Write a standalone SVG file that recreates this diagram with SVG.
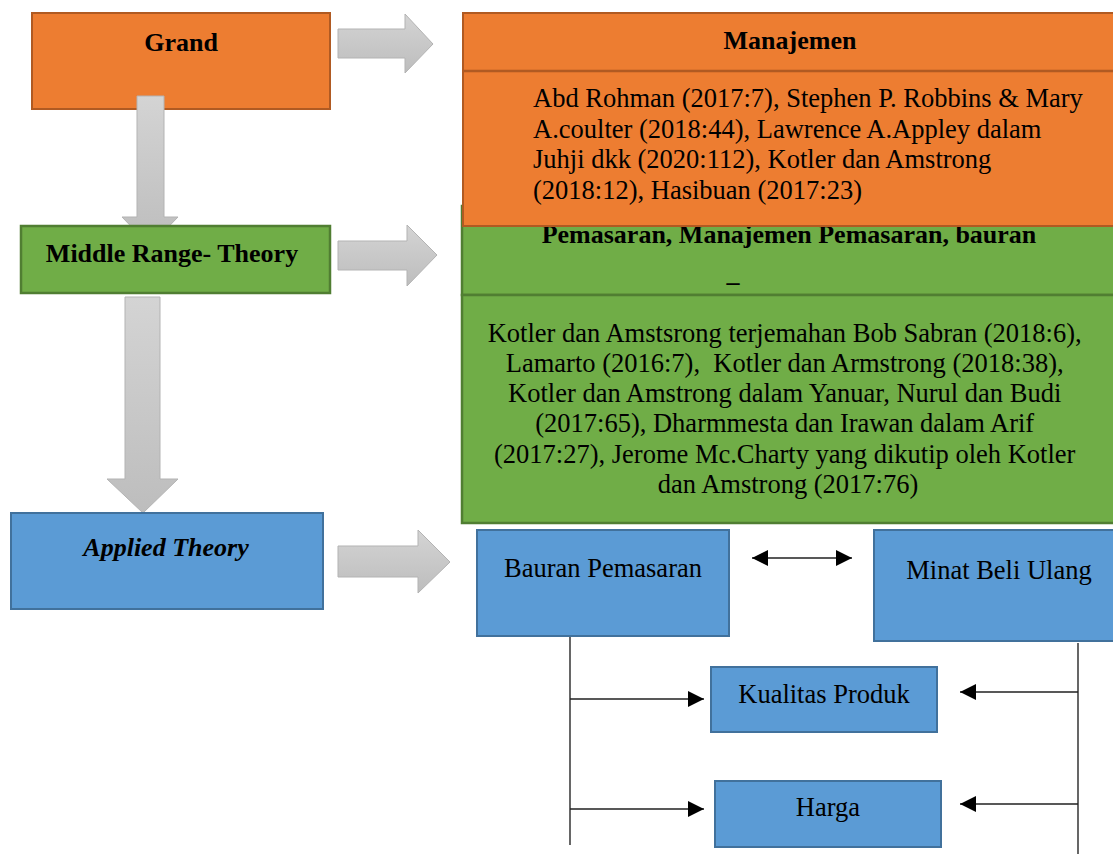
<svg xmlns="http://www.w3.org/2000/svg" width="1113" height="854" viewBox="0 0 1113 854">
<defs>
<linearGradient id="gg" x1="0" y1="0" x2="0" y2="1">
<stop offset="0" stop-color="#d4d4d4"/>
<stop offset="1" stop-color="#bdbdbd"/>
</linearGradient>
<marker id="ah" viewBox="0 0 10 10" refX="10" refY="5" markerWidth="16" markerHeight="16" markerUnits="userSpaceOnUse" orient="auto-start-reverse">
<path d="M0,0 L10,5 L0,10 Z" fill="#000"/>
</marker>
</defs>
<style>
.t{font-family:"Liberation Serif","Times New Roman",serif;fill:#000}
.b{font-weight:bold;font-size:26px}
.r{font-size:26.5px}
.or{fill:#ED7D31;stroke:#B05A22;stroke-width:2}
.gr{fill:#70AD47;stroke:#507E32;stroke-width:2.5}
.bl{fill:#5B9BD5;stroke:#41719C;stroke-width:2}
.ga{fill:url(#gg);stroke:#b3b3b3;stroke-width:1}
.ln{fill:none;stroke:#404040;stroke-width:1.6}
.la{fill:none;stroke:#202020;stroke-width:1.6}
</style>
<rect width="1113" height="854" fill="#fff"/>

<g id="grand">
<rect class="or" x="32" y="13" width="298" height="96"/>
<text class="t b" x="181" y="51" text-anchor="middle">Grand</text>
</g>

<g id="connectors">
<path class="ga" d="M137,96 L164,96 L164,217 L178,217 L150,246 L122,217 L137,217 Z"/>
<path class="ga" d="M125,297 L160,297 L160,479 L178,479 L143,513 L107,479 L125,479 Z"/>
<path class="ga" d="M338,29 L405,29 L405,14 L433,44 L405,73 L405,58 L338,58 Z"/>
<path class="ga" d="M338,241 L407,241 L407,225 L437,255 L407,286 L407,270 L338,270 Z"/>
<path class="ga" d="M338,546 L418,546 L418,530 L450,562 L418,593 L418,577 L338,577 Z"/>
<line class="la" x1="752" y1="558" x2="852" y2="558" marker-start="url(#ah)" marker-end="url(#ah)"/>
<line class="ln" x1="570" y1="636" x2="570" y2="845"/>
<line class="la" x1="570" y1="699" x2="704" y2="699" marker-end="url(#ah)"/>
<line class="la" x1="570" y1="809" x2="704" y2="809" marker-end="url(#ah)"/>
<line class="ln" x1="1078" y1="643" x2="1078" y2="854"/>
<line class="la" x1="1078" y1="692" x2="960" y2="692" marker-end="url(#ah)"/>
<line class="la" x1="1078" y1="804" x2="960" y2="804" marker-end="url(#ah)"/>
</g>

<g id="middle">
<rect class="gr" x="21" y="226" width="309" height="67"/>
<text class="t b" x="172" y="262" text-anchor="middle">Middle Range- Theory</text>
</g>

<g id="applied">
<rect class="bl" x="11" y="513" width="312" height="96"/>
<text class="t b" x="166" y="556" text-anchor="middle" font-style="italic">Applied Theory</text>
</g>

<g id="pemasaran">
<rect class="gr" x="462" y="206" width="660" height="89"/>
<text class="t b" x="789" y="243" text-anchor="middle">Pemasaran, Manajemen Pemasaran, bauran</text>
<text class="t b" x="733" y="281" text-anchor="middle">_</text>
<rect class="gr" x="462" y="295" width="660" height="228"/>
<text class="t r" text-anchor="middle">
<tspan x="788" y="342">Kotler dan Amstsrong terjemahan Bob Sabran (2018:6),</tspan>
<tspan x="788" y="372">Lamarto (2016:7), &#160;Kotler dan Armstrong (2018:38),</tspan>
<tspan x="788" y="402">Kotler dan Amstrong dalam Yanuar, Nurul dan Budi</tspan>
<tspan x="788" y="432">(2017:65), Dharmmesta dan Irawan dalam Arif</tspan>
<tspan x="788" y="463">(2017:27), Jerome Mc.Charty yang dikutip oleh Kotler</tspan>
<tspan x="788" y="493">dan Amstrong (2017:76)</tspan>
</text>
</g>

<g id="manajemen">
<rect class="or" x="463" y="13" width="660" height="213"/>
<line x1="463" y1="71" x2="1113" y2="71" stroke="#B05A22" stroke-width="2.5"/>
<text class="t b" x="790" y="49" text-anchor="middle">Manajemen</text>
<text class="t r">
<tspan x="533" y="107">Abd Rohman (2017:7), Stephen P. Robbins &amp; Mary</tspan>
<tspan x="533" y="138">A.coulter (2018:44), Lawrence A.Appley dalam</tspan>
<tspan x="533" y="168">Juhji dkk (2020:112), Kotler dan Amstrong</tspan>
<tspan x="533" y="199">(2018:12), Hasibuan (2017:23)</tspan>
</text>
</g>

<g id="bauran">
<rect class="bl" x="477" y="530" width="252" height="106"/>
<text class="t r" x="603" y="577" text-anchor="middle">Bauran Pemasaran</text>
</g>

<g id="minat">
<rect class="bl" x="874" y="530" width="250" height="111"/>
<text class="t r" x="999" y="579" text-anchor="middle">Minat Beli Ulang</text>
</g>

<g id="kualitas">
<rect class="bl" x="711" y="667" width="226" height="65"/>
<text class="t r" x="824" y="703" text-anchor="middle">Kualitas Produk</text>
</g>

<g id="harga">
<rect class="bl" x="715" y="781" width="226" height="66"/>
<text class="t r" x="828" y="816" text-anchor="middle">Harga</text>
</g>
</svg>
